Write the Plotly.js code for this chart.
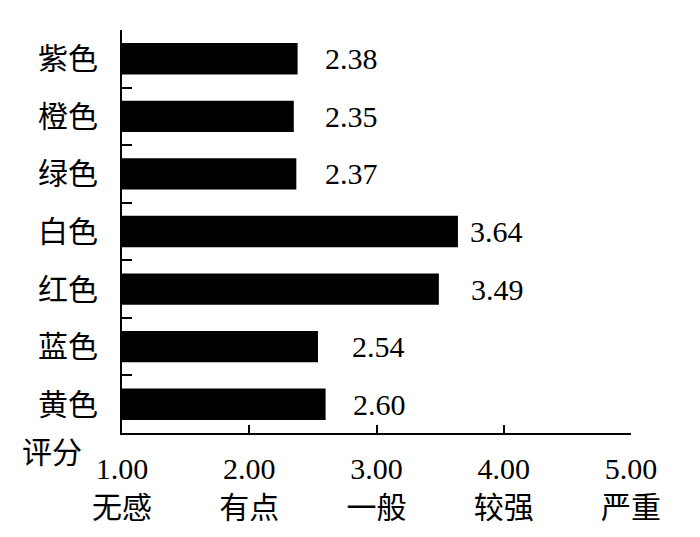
<!DOCTYPE html>
<html>
<head>
<meta charset="utf-8">
<script src="https://cdn.plot.ly/plotly-3.0.1.min.js"></script>
<style>html,body{margin:0;padding:0;background:#fff;}#chart{width:700px;height:537px;}</style>
</head>
<body>
<div id="chart"></div>
<script>
// Data (bottom to top)
const categories = ["黄色", "蓝色", "红色", "白色", "绿色", "橙色", "紫色"];
const scores = [2.60, 2.54, 3.49, 3.64, 2.37, 2.35, 2.38];
const scoreLabels = ["2.60", "2.54", "3.49", "3.64", "2.37", "2.35", "2.38"];
const tickValues = [1, 2, 3, 4, 5];
const tickNumbers = ["1.00", "2.00", "3.00", "4.00", "5.00"];
const tickWords = ["无感", "有点", "一般", "较强", "严重"];
const axisCaption = "评分";

const FONT = "Liberation Serif, 'Times New Roman', 'Noto Sans CJK SC', serif";
const FS = 30;
const labelShifts = [25, 32, 30, 10, 27, 29, 25];

const trace = {
  type: "bar",
  orientation: "h",
  y: categories,
  x: scores.map(v => v - 1),
  base: 1,
  width: 0.545,
  marker: {color: "#000000", line: {width: 0}},
  hoverinfo: "skip"
};

const annotations = categories.map((c, i) => ({
  xref: "x", yref: "y",
  x: scores[i], y: c,
  text: scoreLabels[i],
  showarrow: false,
  xanchor: "left", yanchor: "middle",
  xshift: labelShifts[i],
  font: {family: FONT, size: FS, color: "#000"}
}));
annotations.push({
  xref: "paper", yref: "paper",
  x: 0, y: 0,
  xanchor: "right", yanchor: "middle",
  xshift: -38, yshift: -19,
  text: axisCaption,
  showarrow: false,
  font: {family: FONT, size: FS, color: "#000"}
});

const layout = {
  width: 700, height: 537,
  margin: {l: 122, r: 69, t: 30, b: 104, pad: 0},
  paper_bgcolor: "#fff", plot_bgcolor: "#fff",
  showlegend: false,
  font: {family: FONT, size: FS, color: "#000"},
  xaxis: {
    range: [1, 5],
    tickmode: "array",
    tickvals: tickValues,
    ticktext: tickNumbers.map((n, i) => n + "<br>" + tickWords[i]),
    ticks: "inside", ticklen: 8, tickwidth: 2, tickcolor: "#000",
    showline: true, linecolor: "#000", linewidth: 2,
    showgrid: false, zeroline: false,
    ticklabelstandoff: 8,
    tickfont: {family: FONT, size: FS, color: "#000"}
  },
  yaxis: {
    type: "category",
    categoryorder: "array",
    categoryarray: categories,
    tickson: "boundaries",
    ticks: "inside", ticklen: 10, tickwidth: 2, tickcolor: "#000",
    showline: true, linecolor: "#000", linewidth: 2,
    showgrid: false, zeroline: false,
    ticklabelstandoff: 16,
    tickfont: {family: FONT, size: FS, color: "#000"}
  },
  annotations: annotations
};

Plotly.newPlot("chart", [trace], layout, {displayModeBar: false, staticPlot: true});
</script>
</body>
</html>
